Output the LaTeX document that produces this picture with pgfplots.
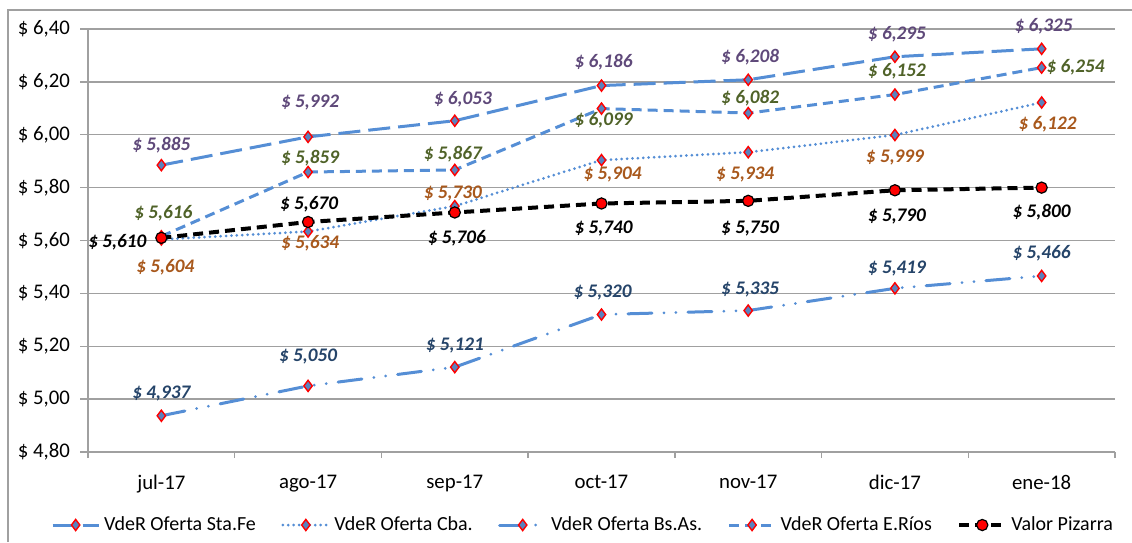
\documentclass[border=0pt]{standalone}
\usepackage{fontspec}
\setmainfont{Carlito}
\usepackage{pgfplots}
\pgfplotsset{compat=1.18}

\definecolor{serieblue}{HTML}{558ED5}
\definecolor{mkfill}{HTML}{5A82BE}
\definecolor{lblpurple}{HTML}{5F497A}
\definecolor{lblbrown}{HTML}{A8581C}
\definecolor{lblnavy}{HTML}{254469}
\definecolor{lblgreen}{HTML}{4F6228}
\definecolor{gridgray}{HTML}{A0A0A0}

\pgfplotsset{
  lbl/.style={
    nodes near coords={\$ \pgfmathprintnumber[fixed,fixed zerofill,precision=3,use comma]{\pgfplotspointmeta}},
    visualization depends on={value \thisrow{dx}\as\lx},
    visualization depends on={value \thisrow{dy}\as\ly},
    every node near coord/.append style={anchor=center, xshift=\lx pt, yshift=\ly pt,
      text=#1, font=\fontsize{9.6}{10}\selectfont\bfseries\itshape},
  },
  vder/.style={serieblue, line width=1.5pt, mark=diamond*, mark size=2.8pt,
    mark options={solid, fill=mkfill, draw=red, line width=0.7pt}},
}

\begin{document}
\begin{tikzpicture}[x=1pt,y=1pt]
\useasboundingbox (0,0) rectangle (566,271);
\draw[gridgray, line width=0.6pt] (4,0) -- (4,266) -- (566,266);
\begin{axis}[
  at={(44pt,45pt)}, anchor=south west,
  scale only axis, width=513.5pt, height=211.5pt,
  xmin=-0.5, xmax=6.5, ymin=4.8, ymax=6.4,
  xtick={0,1,2,3,4,5,6},
  xticklabels={jul-17,ago-17,sep-17,oct-17,nov-17,dic-17,ene-18},
  minor xtick={-0.5,0.5,1.5,2.5,3.5,4.5,5.5,6.5},
  ytick={4.8,5,5.2,5.4,5.6,5.8,6,6.2,6.4},
  yticklabel={\$ \pgfmathprintnumber[fixed,fixed zerofill,precision=2,use comma]{\tick}},
  /pgf/number format/assume math mode=true,
  axis x line*=bottom, axis y line*=left,
  axis line style={gridgray, line width=0.7pt},
  tick style={gridgray, line width=0.7pt},
  tick align=outside, major tick length=4pt, minor tick length=3pt,
  every major x tick/.append style={draw=none},
  ymajorgrids, major grid style={gridgray, line width=0.7pt},
  tick label style={font=\fontsize{10.4}{12}\selectfont},
  yticklabel style={xshift=-1.5pt},
  xticklabel style={yshift=-4pt},
  point meta=explicit,
  clip=false,
  legend style={at={(0.483,-0.1726)}, anchor=center, draw=none, fill=none,
    font=\fontsize{10}{11}\selectfont, legend columns=5,
    /tikz/every even column/.append style={column sep=10.7pt}},
  legend image code/.code={\draw[mark repeat=2,mark phase=2] plot coordinates {(0pt,0pt) (11.5pt,0pt) (23pt,0pt)};},
]
% VdeR Oferta Sta.Fe
\addplot[vder, dash pattern=on 11pt off 4pt, lbl=lblpurple] table[x=x,y=y,meta=y] {
x y dx dy
0 5.885 0 10
1 5.992 1 17
2 6.053 4 10.5
3 6.186 1 11.5
4 6.208 1 11.5
5 6.295 1 11.5
6 6.325 1 11.5
};
% VdeR Oferta Cba.
\addplot[vder, line cap=round, dash pattern=on 0pt off 2.7pt, lbl=lblbrown] table[x=x,y=y,meta=y] {
x y dx dy
0 5.604 2 -14
1 5.634 1 -6
2 5.730 -1 6.5
3 5.904 5.5 -7
4 5.934 -1.5 -11
5 5.999 0 -11
6 6.122 3 -11
};
% VdeR Oferta Bs.As.
\addplot[vder, line cap=round, dash pattern=on 12pt off 6pt on 0pt off 6pt on 0pt off 6pt, lbl=lblnavy] table[x=x,y=y,meta=y] {
x y dx dy
0 4.937 0 11
1 5.050 0 14.5
2 5.121 0 11
3 5.320 0.5 11
4 5.335 1 10.5
5 5.419 1 10
6 5.466 0 11.5
};
% VdeR Oferta E.Rios
\addplot[vder, dash pattern=on 5pt off 3pt, lbl=lblgreen] table[x=x,y=y,meta=y] {
x y dx dy
0 5.616 1 11.5
1 5.859 1 7
2 5.867 -1 8
3 6.099 1 -6
4 6.082 1 7.5
5 6.152 1 11.5
6 6.254 17 0
};
% Valor Pizarra
\addplot[black, line width=2pt, dash pattern=on 5pt off 3pt, mark=*, mark size=2.8pt,
  mark options={solid, fill=red, draw=black, line width=0.6pt}, lbl=black] table[x=x,y=y,meta=y] {
x y dx dy
0 5.610 -22 -2
1 5.670 0.5 9
2 5.706 1 -13
3 5.740 1 -12.5
4 5.750 1 -14
5 5.790 1 -13
6 5.800 0 -12.5
};
\legend{VdeR Oferta Sta.Fe, VdeR Oferta Cba., VdeR Oferta Bs.As., VdeR Oferta E.Ríos, Valor Pizarra}
\end{axis}
\end{tikzpicture}
\end{document}
